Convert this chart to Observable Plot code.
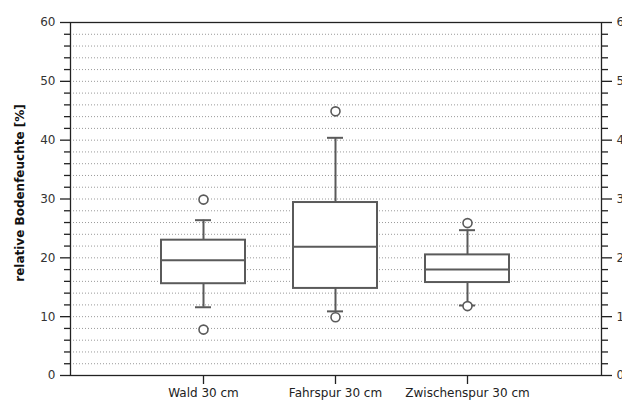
<!DOCTYPE html>
<html>
<head>
<meta charset="utf-8">
<script src="https://cdn.jsdelivr.net/npm/d3@7"></script>
<script src="https://cdn.jsdelivr.net/npm/@observablehq/plot@0.6"></script>
<style>
  html, body { margin: 0; padding: 0; background: #fff; overflow: hidden; }
  #chart svg { overflow: visible; }
</style>
</head>
<body>
<div id="chart"></div>
<script>
// Categories and box statistics
const categories = ["Wald 30 cm", "Fahrspur 30 cm", "Zwischenspur 30 cm"];
const q1 = [15.6, 14.8, 15.8];
const median = [19.6, 21.9, 18.0];
const q3 = [23.0, 29.4, 20.5];
const whiskerLow = [11.6, 10.9, 11.9];
const whiskerHigh = [26.4, 40.4, 24.7];
const outlierCategory = ["Wald 30 cm", "Wald 30 cm", "Fahrspur 30 cm", "Fahrspur 30 cm", "Zwischenspur 30 cm", "Zwischenspur 30 cm"];
const outlierValue = [29.9, 7.8, 44.9, 9.9, 25.9, 11.8];
const majorTicks = [0, 10, 20, 30, 40, 50, 60];
const minorTicks = d3.range(0, 61, 2).filter(v => v % 10 !== 0);
const gridValues = d3.range(2, 60, 2);
const yTitle = "relative Bodenfeuchte [%]";

const boxes = categories.map((c, i) => ({
  cat: c, q1: q1[i], med: median[i], q3: q3[i], lo: whiskerLow[i], hi: whiskerHigh[i]
}));
const outliers = outlierCategory.map((c, i) => ({cat: c, v: outlierValue[i]}));

const boxColor = "#5a5a5a";
const axisColor = "#222";

const chart = Plot.plot({
  width: 622,
  height: 405,
  marginLeft: 70,
  marginRight: 21,
  marginTop: 22,
  marginBottom: 30,
  style: {fontFamily: "DejaVu Sans, Verdana, sans-serif", fontSize: "12px", color: "#333", background: "#fff"},
  x: {type: "band", domain: categories, paddingInner: 0.36, paddingOuter: 0.68, align: 0.5},
  y: {domain: [0, 60]},
  marks: [
    Plot.ruleY(gridValues, {stroke: "#9a9a9a", strokeDasharray: "1,2", strokeWidth: 1}),
    // left axis
    Plot.axisY(minorTicks, {anchor: "left", tickSize: 6, text: null, label: null, stroke: axisColor, strokeWidth: 1.3}),
    Plot.axisY(majorTicks, {anchor: "left", tickSize: 10, tickPadding: 5, label: null, stroke: axisColor, strokeWidth: 1.3, fontSize: 12, fill: "#333"}),
    // right axis
    Plot.axisY(minorTicks, {anchor: "right", tickSize: 6, text: null, label: null, stroke: axisColor, strokeWidth: 1.3}),
    Plot.axisY(majorTicks, {anchor: "right", tickSize: 10, tickPadding: 5, label: null, stroke: axisColor, strokeWidth: 1.3, fontSize: 12, fill: "#333"}),
    // bottom axis
    Plot.axisX({anchor: "bottom", tickSize: 9, tickPadding: 4, label: null, stroke: axisColor, strokeWidth: 1.3, fontSize: 12, fill: "#222"}),
    Plot.frame({stroke: axisColor, strokeWidth: 1.3}),
    // y title
    Plot.text([yTitle], {frameAnchor: "left", textAnchor: "middle", rotate: -90, dx: -50, dy: -6, fontWeight: "bold", fontSize: 12, fontFamily: "DejaVu Sans, Verdana, sans-serif", fill: "#111"}),
    // whiskers
    Plot.ruleX(boxes, {x: "cat", y1: "q3", y2: "hi", stroke: boxColor, strokeWidth: 2}),
    Plot.ruleX(boxes, {x: "cat", y1: "lo", y2: "q1", stroke: boxColor, strokeWidth: 2}),
    Plot.tickY(boxes, {x: "cat", y: "hi", stroke: boxColor, strokeWidth: 2, inset: 34}),
    Plot.tickY(boxes, {x: "cat", y: "lo", stroke: boxColor, strokeWidth: 2, inset: 34}),
    // boxes
    Plot.barY(boxes, {x: "cat", y1: "q1", y2: "q3", fill: "white", stroke: boxColor, strokeWidth: 2}),
    Plot.tickY(boxes, {x: "cat", y: "med", stroke: boxColor, strokeWidth: 2}),
    // outliers
    Plot.dot(outliers, {x: "cat", y: "v", r: 4.5, stroke: boxColor, strokeWidth: 1.6, fill: "white"})
  ]
});
document.getElementById("chart").appendChild(chart);
</script>
</body>
</html>
